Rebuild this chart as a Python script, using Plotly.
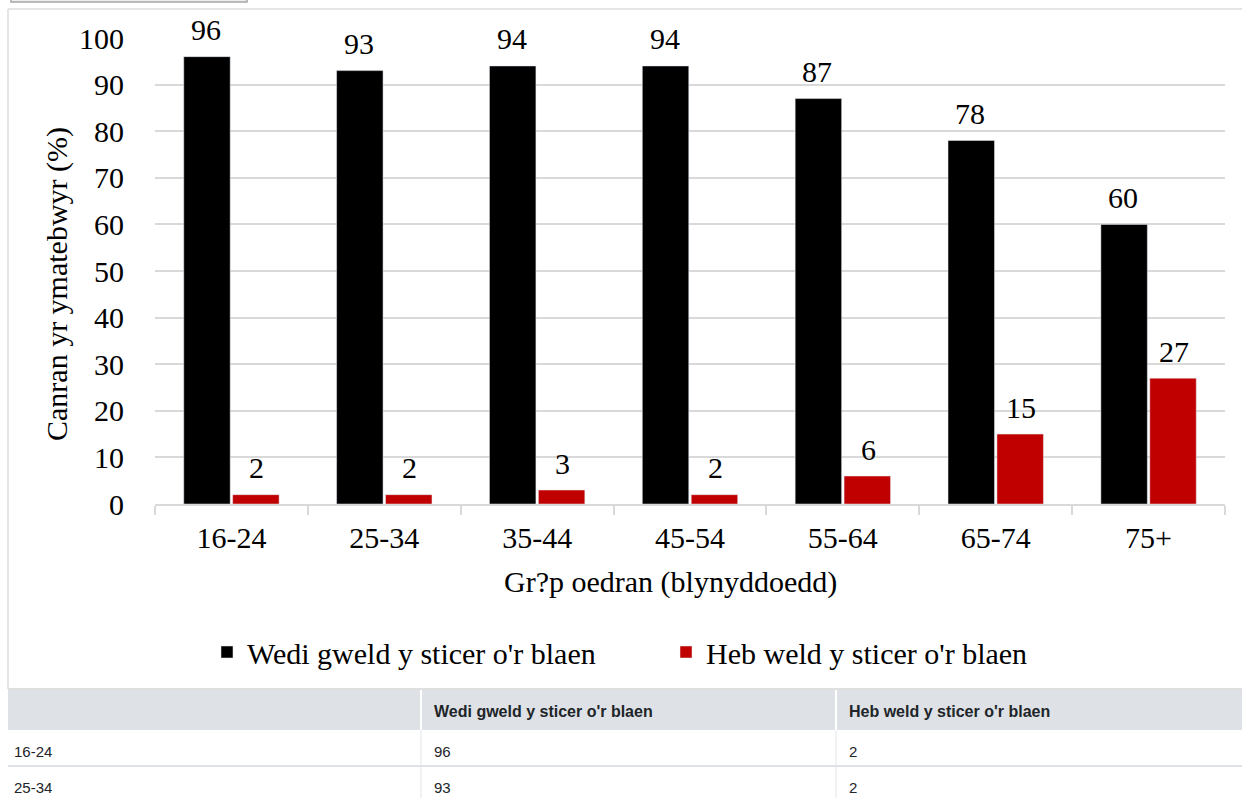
import plotly.graph_objects as go

categories = ["16-24", "25-34", "35-44", "45-54", "55-64", "65-74", "75+"]
seen = [96, 93, 94, 94, 87, 78, 60]
not_seen = [2, 2, 3, 2, 6, 15, 27]
series_names = ["Wedi gweld y sticer o'r blaen", "Heb weld y sticer o'r blaen"]
series_colors = ["#000000", "#C00000"]
y_ticks = [0, 10, 20, 30, 40, 50, 60, 70, 80, 90, 100]
x_title = "Gr?p oedran (blynyddoedd)"
y_title = "Canran yr ymatebwyr (%)"

W, H = 1242, 798
L, R, T, B = 155, 17, 38, 294
PW, PH = W - L - R, H - T - B

def px(p):
    return (p - L) / PW

def py(p):
    return (H - B - p) / PH

SERIF = "Liberation Serif, Times New Roman, serif"
SANS = "Liberation Sans, Arial, sans-serif"
FS = 30
TXT = "#212529"

fig = go.Figure()
for name, vals, col in zip(series_names, [seen, not_seen], series_colors):
    fig.add_trace(go.Bar(x=categories, y=vals, name=name, marker_color=col))

shapes = []
annotations = []

# data labels above bars
for vals, shift in zip([seen, not_seen], [-25.5, 25.5]):
    for c, v in zip(categories, vals):
        annotations.append(dict(xref="x", yref="y", x=c, y=v, text=str(v), showarrow=False,
                                xanchor="center", yanchor="middle", xshift=shift, yshift=27,
                                font=dict(family=SERIF, size=FS, color="#000000")))

# outer frame
shapes.append(dict(type="line", xref="paper", yref="paper", x0=px(8), x1=px(1245), y0=py(9), y1=py(9),
                   line=dict(color="#dcdcdc", width=1.5)))
shapes.append(dict(type="line", xref="paper", yref="paper", x0=px(8), x1=px(8), y0=py(9), y1=py(689),
                   line=dict(color="#dcdcdc", width=1.5)))
# top-left button edge
shapes.append(dict(type="rect", xref="paper", yref="paper", x0=px(11), x1=px(247), y0=py(-10), y1=py(2),
                   fillcolor="#eeeeee", line=dict(color="#a6a6a6", width=1.5)))

# table
col_x = [8, 421, 836, 1245]
text_x = [12, 432, 847]
header_top, header_bot = 689, 730
row_bounds = [730, 766, 806]
row_text_y = [751, 787]
shapes.append(dict(type="line", xref="paper", yref="paper", x0=px(8), x1=px(1245), y0=py(689), y1=py(689),
                   line=dict(color="#d4d4d4", width=1.5)))
shapes.append(dict(type="rect", xref="paper", yref="paper", x0=px(8), x1=px(1245),
                   y0=py(header_bot), y1=py(header_top + 1), fillcolor="#dee2e6", line=dict(width=0)))
for cx in col_x[1:-1]:
    shapes.append(dict(type="line", xref="paper", yref="paper", x0=px(cx), x1=px(cx),
                       y0=py(header_top + 1), y1=py(header_bot), line=dict(color="#ffffff", width=2)))
    shapes.append(dict(type="line", xref="paper", yref="paper", x0=px(cx), x1=px(cx),
                       y0=py(header_bot), y1=py(806), line=dict(color="#eceef0", width=1.5)))
for rb in row_bounds[1:]:
    shapes.append(dict(type="line", xref="paper", yref="paper", x0=px(8), x1=px(1245), y0=py(rb), y1=py(rb),
                       line=dict(color="#dee2e6", width=2)))

for i, name in enumerate(series_names):
    annotations.append(dict(xref="paper", yref="paper", x=px(text_x[i + 1]), y=py(711),
                            text="<b>" + name + "</b>", showarrow=False, xanchor="left", yanchor="middle",
                            font=dict(family=SANS, size=16, color=TXT)))
for r in range(2):
    vals = [categories[r], str(seen[r]), str(not_seen[r])]
    for c, v in enumerate(vals):
        annotations.append(dict(xref="paper", yref="paper", x=px(text_x[c]), y=py(row_text_y[r]),
                                text=v, showarrow=False, xanchor="left", yanchor="middle",
                                font=dict(family=SANS, size=15, color=TXT)))

# axis titles
annotations.append(dict(xref="paper", yref="paper", x=px(57), y=py(284), text=y_title, textangle=-90,
                        showarrow=False, xanchor="center", yanchor="middle",
                        font=dict(family=SERIF, size=FS, color="#000000")))
annotations.append(dict(xref="paper", yref="paper", x=px(670), y=py(582), text=x_title,
                        showarrow=False, xanchor="center", yanchor="middle",
                        font=dict(family=SERIF, size=FS, color="#000000")))

fig.update_layout(
    width=W, height=H,
    margin=dict(l=L, r=R, t=T, b=B, pad=0),
    paper_bgcolor="#ffffff", plot_bgcolor="#ffffff",
    barmode="group", bargap=0.36, bargroupgap=0.05,
    font=dict(family=SERIF, size=FS, color="#000000"),
    showlegend=True,
    legend=dict(orientation="h", x=px(207), xanchor="left", y=py(652), yanchor="middle",
                font=dict(family=SERIF, size=FS, color="#000000"), itemwidth=30,
                entrywidth=414, entrywidthmode="pixels", traceorder="normal"),
    shapes=shapes, annotations=annotations,
)
fig.update_xaxes(showline=True, linecolor="#d9d9d9", linewidth=1.5, ticks="outside", tickson="boundaries",
                 ticklen=9, tickcolor="#d9d9d9", tickwidth=1.5, showgrid=False,
                 tickfont=dict(family=SERIF, size=FS, color="#000000"), ticklabelstandoff=6)
fig.update_yaxes(range=[0, 100], tickvals=y_ticks, showgrid=True, gridcolor="#d9d9d9", gridwidth=1.5,
                 zeroline=False, showline=False, ticks="", ticklabelstandoff=30,
                 tickfont=dict(family=SERIF, size=FS, color="#000000"))

fig.write_html("out.html", config={"displayModeBar": False},
               post_script="document.body.style.margin='0px';document.body.style.overflow='hidden';")
